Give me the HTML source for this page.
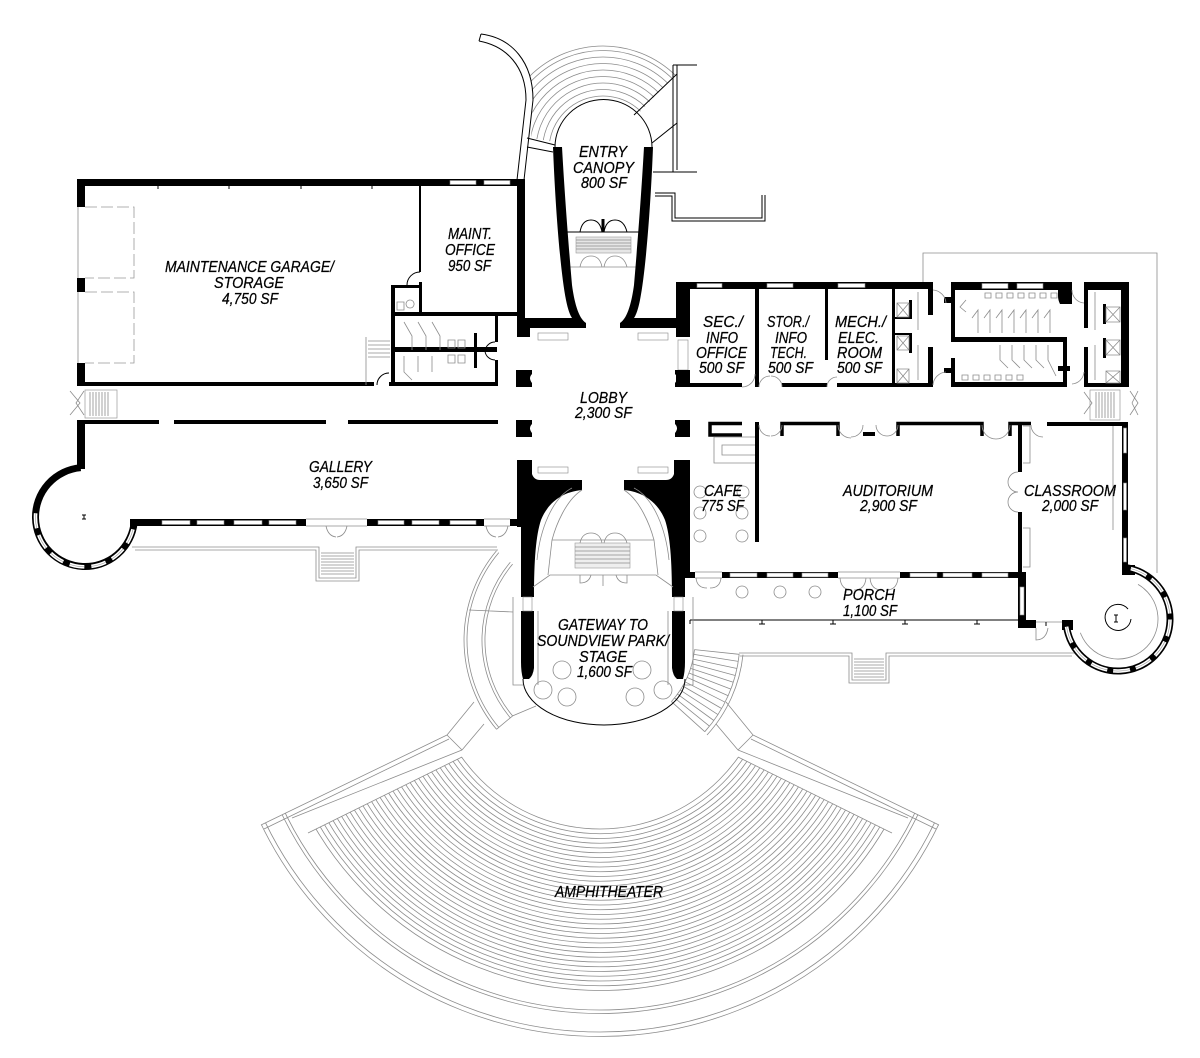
<!DOCTYPE html>
<html><head><meta charset="utf-8"><title>Floor Plan</title>
<style>
html,body{margin:0;padding:0;background:#fff}
svg{display:block}
.t{font-family:"Liberation Sans",Arial,sans-serif;font-style:italic;font-size:15.5px;fill:#000;stroke:#000;stroke-width:.25}
.g{fill:none;stroke:#8c8c8c;stroke-width:.8}
.k{fill:none;stroke:#000;stroke-width:1}
.w{fill:#fff;stroke:#888;stroke-width:.6}
</style></head><body>
<svg width="1200" height="1058" viewBox="0 0 1200 1058" xmlns="http://www.w3.org/2000/svg">
<rect width="1200" height="1058" fill="#fff"/>
<defs>
 <clipPath id="seat"><polygon points="462,757 154,909 154,1058 1046,1058 1046,909 738,757"/></clipPath>
 <clipPath id="outer"><polygon points="600,660 150,879 150,1058 1050,1058 1050,879"/></clipPath>
 <clipPath id="cs"><polygon points="603,150 531,138 533,100 530,75 516,52 495,30 560,-60 800,-60 742,6"/></clipPath>
</defs>

<!-- ================= AMPHITHEATER ================= -->
<g class="g" clip-path="url(#seat)">
 <circle cx="600" cy="660" r="169"/><circle cx="600" cy="660" r="173.75"/><circle cx="600" cy="660" r="178.5"/><circle cx="600" cy="660" r="183.25"/>
 <circle cx="600" cy="660" r="188"/><circle cx="600" cy="660" r="192.75"/><circle cx="600" cy="660" r="197.5"/><circle cx="600" cy="660" r="202.25"/>
 <circle cx="600" cy="660" r="207"/><circle cx="600" cy="660" r="211.75"/><circle cx="600" cy="660" r="216.5"/><circle cx="600" cy="660" r="221.25"/>
 <circle cx="600" cy="660" r="226"/><circle cx="600" cy="660" r="230.75"/><circle cx="600" cy="660" r="235.5"/><circle cx="600" cy="660" r="240.25"/>
 <circle cx="600" cy="660" r="245"/><circle cx="600" cy="660" r="249.75"/><circle cx="600" cy="660" r="254.5"/><circle cx="600" cy="660" r="259.25"/>
 <circle cx="600" cy="660" r="264"/><circle cx="600" cy="660" r="268.75"/><circle cx="600" cy="660" r="273.5"/><circle cx="600" cy="660" r="278.25"/>
 <circle cx="600" cy="660" r="283"/><circle cx="600" cy="660" r="287.75"/><circle cx="600" cy="660" r="292.5"/><circle cx="600" cy="660" r="297.25"/>
 <circle cx="600" cy="660" r="302"/><circle cx="600" cy="660" r="306.75"/><circle cx="600" cy="660" r="311.5"/><circle cx="600" cy="660" r="316.25"/>
 <circle cx="600" cy="660" r="321"/><circle cx="600" cy="660" r="325.75"/><circle cx="600" cy="660" r="330.5"/>
</g>
<g class="g" clip-path="url(#outer)">
 <circle cx="600" cy="660" r="350"/><circle cx="600" cy="660" r="353.5"/>
 <circle cx="600" cy="660" r="372"/><circle cx="600" cy="660" r="376.5"/>
</g>
<g class="g">
 <path d="M261,825 L447,735 M264,829 L449,739 M292,818 L462,750 M447,735 L462,750 M308,833 L462,757 M447,735 L474,702 M462,750 L484,724"/>
</g>
<g class="g" transform="translate(1200,0) scale(-1,1)">
 <path d="M261,825 L447,735 M264,829 L449,739 M292,818 L462,750 M447,735 L462,750 M308,833 L462,757 M447,735 L474,702 M462,750 L484,724"/>
</g>

<!-- walkway arcs left of gateway -->
<path class="g" d="M496.5,550.7 A139,139 0 0 0 496.5,729.3 M498.8,552.6 A136,136 0 0 0 498.8,727.4 M510.3,562.2 A121,121 0 0 0 510.3,717.8 M512.6,564.1 A118,118 0 0 0 512.6,715.9 M496.5,729.3 L512.6,715.9 M469,610 L513,612 M512.6,715.9 L536,706"/>
<!-- stair fan right of gateway -->
<path class="g" d="M694.5,649.6 A92,92 0 0 1 671.4,701.6 M739.2,654.3 A137,137 0 0 1 704.8,731.7 M743,654.7 A141,141 0 0 1 707,735
M694.5,649.6 L739.2,654.3 M693.9,654.4 L738.3,661.4 M693,659.1 L737,668.5 M691.9,663.8 L735.3,675.5 M690.5,668.4 L733.3,682.3 M688.9,673 L730.9,689.1 M687,677.4 L728.2,695.7 M685,681.8 L725.1,702.2 M682.7,686 L721.6,708.5 M680.2,690.1 L717.9,714.6 M677.4,694.1 L713.8,720.5 M674.5,697.9 L709.5,726.2 M671.4,701.6 L704.8,731.7"/>

<!-- terraces -->
<path class="g" d="M132,547 H319 V578 H356 V547 H497 M135,550 H316 V581 H359 V550 H498"/>
<path class="g" d="M321,553 H354 M321,556 H354 M321,559 H354 M321,562 H354 M321,565 H354 M321,568 H354 M321,571 H354 M321,574 H354"/>
<path class="g" d="M739,653 H852 V680 H886 V653 H1075 M740,656 H849 V683 H889 V656 H1072"/>
<path class="g" d="M854,659 H884 M854,662 H884 M854,665 H884 M854,668 H884 M854,671 H884 M854,674 H884 M854,677 H884"/>
<!-- porch bottom -->
<path class="k" d="M690,620 H1018" stroke-width="1.2"/>
<path class="k" d="M690,620 V624 M762,620 V624 M833,620 V624 M905,620 V624 M977,620 V624 M759,624 H765 M830,624 H836 M902,624 H908 M974,624 H980"/>
<!-- site outline -->
<path class="g" d="M923,282 V253 H1157 V573"/>

<!-- ================= ENTRY CANOPY ================= -->
<g class="g" clip-path="url(#cs)">
 <circle cx="603" cy="150" r="54"/><circle cx="603" cy="150" r="60.5"/><circle cx="603" cy="150" r="67"/><circle cx="603" cy="150" r="73.5"/>
 <circle cx="603" cy="150" r="80"/><circle cx="603" cy="150" r="86.5"/><circle cx="603" cy="150" r="93"/><circle cx="603" cy="150" r="99.5"/><circle cx="603" cy="150" r="104"/>
</g>
<path class="k" d="M555,147 A48,47 0 0 1 652,147"/>
<path class="k" stroke-width=".9" d="M677,74 L634,115 M677,123 L652,143 M527,138 L555,145 M527,147 L553,152"/>
<!-- ramp -->
<path class="k" stroke-width=".9" d="M481,34 C512,38 533,62 533,100 L524,180 M479,41 C506,46 526,66 526,100 L517,180 M479,41 L481,34"/>
<!-- right outline -->
<path class="k" stroke-width=".9" d="M673,65 V172 M677,65 V170 M673,65 H697 M653,172 H697 M655,193 H675 V218 H762 V195 M655,196 H672 V221 H765 V195"/>
<!-- canopy doors -->
<path class="k" d="M562,232 H645"/>
<path class="k" stroke-width="1.3" d="M580,232 Q582,220 591,220 Q600,220 602,232 M604,232 Q606,220 615,220 Q624,220 627,232"/>
<rect x="601.5" y="219" width="3" height="13"/>
<rect x="576" y="237" width="55" height="16" fill="#e6e6e6" stroke="#999" stroke-width=".6"/>
<path class="g" d="M576,240 H631 M576,243 H631 M576,246 H631 M576,249 H631"/>
<path class="g" d="M567,267 H640 M580,267 Q582,256 591,256 Q600,256 602,267 M604,267 Q606,256 615,256 Q624,256 627,267"/>

<!-- ================= MAINTENANCE ================= -->
<g fill="#000">
 <rect x="77" y="179" width="448" height="7"/>
 <rect x="77" y="179" width="8" height="28"/>
 <rect x="77" y="278" width="8" height="14"/>
 <rect x="77" y="363" width="8" height="23"/>
 <rect x="517" y="179" width="8" height="158"/>
 <rect x="419" y="186" width="2" height="86"/>
 <rect x="391" y="312" width="126" height="4"/>
 <rect x="391" y="285" width="4" height="101"/>
 <rect x="391" y="285" width="31" height="3"/>
 <rect x="419" y="282" width="3" height="31"/>
 <rect x="495" y="316" width="3" height="26"/>
 <rect x="495" y="360" width="3" height="26"/>
 <rect x="393" y="347" width="104" height="5"/>
 <rect x="474" y="333" width="3" height="35"/>
 <rect x="77" y="382" width="297" height="4"/>
 <rect x="389" y="382" width="109" height="4"/>
</g>
<path class="g" d="M78,207 V278 M78,292 V363"/>
<path d="M85,207 H134 V278 H85 M85,292 H134 V363 H85" fill="none" stroke="#999" stroke-width=".8" stroke-dasharray="12 4"/>
<rect class="w" x="450" y="180.5" width="26" height="4"/>
<rect class="w" x="484" y="180.5" width="26" height="4"/>
<path class="k" stroke-width=".8" d="M158,186 V189 M229,186 V189 M301,186 V189 M372,186 V189"/>
<path class="k" stroke-width=".8" d="M420,272 A13,13 0 0 0 407,285 M495,342 A10,10 0 0 0 485,351 A10,10 0 0 0 495,360 M377,385 A12,12 0 0 1 389,373"/>
<path class="g" d="M366,337 V385 M368,341 H390 M368,345 H390 M368,349 H390 M368,353 H390 M368,357 H390 M404,322 L412,336 V350 M418,322 L426,336 V350 M432,322 L440,336 V350 M404,356 V372 L412,380 M418,356 V372 M432,356 V372 M448,340 H455 V348 H448 Z M458,340 H465 V348 H458 Z M448,355 H455 V363 H448 Z M458,355 H465 V363 H458 Z M397,302 H404 V310 H397 Z M410,300 A4,4 0 1 0 410.1,300"/>
<!-- left corridor stair -->
<rect x="85" y="390" width="32" height="28" fill="none" stroke="#999" stroke-width=".7"/>
<path class="g" d="M90,392 V416 M93,392 V416 M96,392 V416 M99,392 V416 M102,392 V416 M105,392 V416 M108,392 V416 M70,391 L80,403 L70,415 M84,391 L76,403 L84,415"/>

<!-- ================= GALLERY ================= -->
<g fill="#000">
 <rect x="84" y="420" width="75" height="4"/>
 <rect x="174" y="420" width="152" height="4"/>
 <rect x="348" y="420" width="150" height="4"/>
 <rect x="77" y="420" width="8" height="49"/>
 <rect x="130" y="519" width="387" height="7"/>
</g>
<path d="M80.7,467.7 A49.5,49.5 0 1 0 134.2,522.5" fill="none" stroke="#000" stroke-width="7"/>
<path d="M134.2,522.5 A49.5,49.5 0 1 1 36,510.1" fill="none" stroke="#fff" stroke-width="3.6" stroke-dasharray="15 7" stroke-dashoffset="15"/>
<path d="M134.2,522.5 A49.5,49.5 0 1 1 36,510.1" fill="none" stroke="#999" stroke-width=".6" stroke-dasharray="15 7" stroke-dashoffset="15"/>
<g>
 <rect class="w" x="162" y="520.5" width="28" height="4"/>
 <rect class="w" x="197" y="520.5" width="27" height="4"/>
 <rect class="w" x="234" y="520.5" width="28" height="4"/>
 <rect class="w" x="269" y="520.5" width="27" height="4"/>
 <rect x="306" y="518.5" width="61" height="8" fill="#fff"/>
 <rect class="w" x="378" y="520.5" width="26" height="4"/>
 <rect class="w" x="412" y="520.5" width="27" height="4"/>
 <rect class="w" x="450" y="520.5" width="26" height="4"/>
 <rect x="484" y="518.5" width="26" height="8" fill="#fff"/>
</g>
<path class="g" d="M306,519 H367 M306,526 H367 M484,519 H510 M484,526 H510 M326,526 Q328,536 336,537 M347,526 Q345,536 337,537 M486,526 Q488,536 496,537 M508,526 Q506,536 498,537"/>
<path class="k" stroke-width=".8" d="M84,515 V519 M82,515 H86 M82,519 H86"/>

<!-- ================= LOBBY ================= -->
<g fill="#000">
 <path d="M553,147 C555,200 560,270 566,300 C568,310 570,315 572,318 L517,318 L517,337 L530,337 L530,328 L586,328 L586,323 C578,318 574,300 572,285 C569,250 565,200 562,147 Z"/>
 <path d="M653,147 C651,200 646,270 640,300 C638,310 636,315 634,318 L676,318 L676,282 L690,282 L690,337 L676,337 L676,328 L620,328 L620,323 C628,318 632,300 634,285 C637,250 641,200 644,147 Z"/>
 <path d="M516,370 H532 V374 Q528,378 532,383 V387 H516 Z"/>
 <path d="M516,420 H532 V424 Q528,428 532,433 V437 H516 Z"/>
 <path d="M690,370 H675 V374 Q679,378 675,383 V387 H690 Z"/>
 <path d="M690,420 H675 V424 Q679,428 675,433 V437 H690 Z"/>
 <path d="M517,460 L532,460 L532,474 Q534,480 540,480 L582,480 L582,490 C560,492 547,505 541,520 C536,535 534,560 534,597 L521,597 L521,527 L517,527 Z"/>
 <path d="M521,611 L534,611 L534,668 Q533,676 529,679 L523,679 Q521,672 521,662 Z"/>
 <path d="M690,460 L674,460 L674,474 Q672,480 666,480 L624,480 L624,490 C646,492 659,505 665,520 C670,535 672,560 672,597 L685,597 L685,578 L690,578 Z"/>
 <path d="M672,611 L685,611 L685,662 Q685,672 683,679 L677,679 Q673,676 672,668 Z"/>
</g>
<rect class="w" x="538" y="333" width="30" height="7"/>
<rect class="w" x="638" y="333" width="30" height="7"/>
<rect class="w" x="538" y="467" width="30" height="6"/>
<rect class="w" x="638" y="467" width="30" height="6"/>
<rect class="w" x="678" y="340" width="10" height="30"/>
<rect class="w" x="523" y="597" width="9" height="14"/>
<rect class="w" x="674" y="597" width="9" height="14"/>

<!-- ================= GATEWAY ================= -->
<path class="k" d="M523,679 A81,46 0 0 0 685,679"/>
<path class="g" d="M513,597 V685 H523 M538,611 V685 M693,597 V685 H685 M668,611 V685 M582,490 C566,500 556,525 552,540 L548,575 M624,490 C640,500 650,525 654,540 L658,575 M572,488 C552,498 540,530 537,560 M634,488 C654,498 666,530 669,560 M552,540 H654 M533,587 L550,575 H656 L673,587"/>
<rect x="575" y="543" width="55" height="25" fill="#eee" stroke="#999" stroke-width=".6"/>
<path class="g" d="M575,547 H630 M575,551 H630 M575,555 H630 M575,559 H630 M575,563 H630 M580,543 Q582,533 591,533 Q600,533 602,543 M604,543 Q606,533 615,533 Q624,533 627,543 M580,575 V583 Q589,583 591,575 M627,575 V583 Q618,583 616,575 M603,575 V586"/>
<g class="g">
 <circle cx="562" cy="670" r="9"/><circle cx="642" cy="670" r="9"/>
 <circle cx="543" cy="690" r="9"/><circle cx="567" cy="697" r="9"/>
 <circle cx="635" cy="697" r="9"/><circle cx="663" cy="690" r="9"/>
</g>

<!-- ================= OFFICES (upper right) ================= -->
<g fill="#000">
 <rect x="682" y="282" width="251" height="7"/>
 <rect x="676" y="370" width="14" height="17"/>
 <rect x="689" y="383" width="53" height="4"/>
 <rect x="782" y="383" width="45" height="4"/>
 <rect x="837" y="383" width="96" height="4"/>
 <rect x="755" y="288" width="4" height="99"/>
 <rect x="825" y="288" width="3" height="72"/>
 <rect x="892" y="288" width="3" height="99"/>
 <rect x="909" y="300" width="3" height="18"/>
 <rect x="909" y="333" width="3" height="20"/>
 <rect x="895" y="317" width="17" height="2"/>
 <rect x="895" y="333" width="17" height="2"/>
 <rect x="928" y="282" width="5" height="33"/>
 <rect x="928" y="347" width="5" height="40"/>
 <rect x="951" y="282" width="116" height="8"/>
 <path d="M1058,282 H1072 V304 H1060 Q1058,300 1058,296 Z"/>
 <rect x="951" y="282" width="4" height="60"/>
 <rect x="951" y="358" width="4" height="29"/>
 <rect x="944" y="297" width="8" height="6"/>
 <rect x="944" y="368" width="8" height="5"/>
 <rect x="951" y="337" width="116" height="5"/>
 <rect x="1063" y="342" width="4" height="45"/>
 <rect x="951" y="382" width="116" height="5"/>
 <rect x="1058" y="366" width="12" height="5"/>
 <rect x="1084" y="282" width="45" height="8"/>
 <rect x="1121" y="282" width="8" height="105"/>
 <rect x="1084" y="282" width="4" height="46"/>
 <rect x="1084" y="347" width="4" height="40"/>
 <rect x="1084" y="383" width="45" height="4"/>
 <rect x="1103" y="304" width="3" height="20"/>
 <rect x="1103" y="338" width="3" height="20"/>
</g>
<rect class="w" x="697" y="283.5" width="25" height="4"/>
<rect class="w" x="767" y="283.5" width="26" height="4"/>
<rect class="w" x="838" y="283.5" width="27" height="4"/>
<rect class="w" x="982" y="283.5" width="26" height="5"/>
<rect class="w" x="1017" y="283.5" width="26" height="5"/>
<path class="k" stroke-width=".8" d="M688,289 V292 M756,289 V292 M826,289 V292"/>
<path class="g" d="M897,303 H909 V317 H897 Z M897,303 L909,317 M909,303 L897,317 M897,336 H909 V350 H897 Z M897,336 L909,350 M909,336 L897,350 M897,369 H909 V383 H897 Z M897,369 L909,383 M909,369 L897,383 M918,292 V330 M918,345 V380"/>
<path class="g" d="M1106,307 H1120 V322 H1106 Z M1106,307 L1120,322 M1120,307 L1106,322 M1106,340 H1120 V355 H1106 Z M1106,340 L1120,355 M1120,340 L1106,355 M1106,371 H1120 V383 H1106 Z M1106,371 L1120,383 M1120,371 L1106,383 M1095,292 V330 M1095,345 V380"/>
<path class="g" d="M933,290 A14,14 0 0 1 946,303 M933,385 A14,14 0 0 1 946,372 M1072,290 A13,13 0 0 0 1084,303 M1072,384 A13,13 0 0 0 1084,372"/>
<path class="g" d="M742,387 A13,13 0 0 0 755,374 M759,387 A11,11 0 0 1 770,376 M782,387 A11,11 0 0 0 771,376 M827,387 A10,10 0 0 1 837,377"/>
<path class="g" d="M985,293 h6 v5 h-6 z M996,293 h6 v5 h-6 z M1007,293 h6 v5 h-6 z M1018,293 h6 v5 h-6 z M1029,293 h6 v5 h-6 z M1040,293 h6 v5 h-6 z M1051,293 h6 v5 h-6 z M962,375 h6 v5 h-6 z M973,375 h6 v5 h-6 z M984,375 h6 v5 h-6 z M995,375 h6 v5 h-6 z M1006,375 h6 v5 h-6 z M1017,375 h6 v5 h-6 z"/>
<path class="g" d="M972,318 L978,310 V333 M984,318 L990,310 V333 M996,318 L1002,310 V333 M1008,318 L1014,310 V333 M1020,318 L1026,310 V333 M1032,318 L1038,310 V333 M1044,318 L1050,310 V333 M1000,345 V360 L1008,368 M1012,345 V360 L1020,368 M1024,345 V360 L1032,368 M1036,345 V360 L1044,368 M1048,345 V360 L1056,376 M966,300 L960,307 L966,312"/>
<rect x="1090" y="390" width="30" height="30" fill="none" stroke="#999" stroke-width=".7"/>
<path class="g" d="M1096,392 V418 M1099,392 V418 M1102,392 V418 M1105,392 V418 M1108,392 V418 M1111,392 V418 M1114,392 V418 M1130,391 L1138,403 L1130,415 M1138,391 L1132,403 M1132,403 L1138,415 M1084,392 L1092,403 L1084,414"/>

<!-- ================= CAFE / AUDITORIUM / CLASSROOM ================= -->
<g fill="#000">
 <rect x="755" y="422" width="4" height="120"/>
 <rect x="863" y="432" width="12" height="4"/>
 <rect x="1018" y="422" width="4" height="50"/>
 <rect x="1018" y="512" width="4" height="61"/>
 <rect x="1047" y="422" width="81" height="4"/>
 <rect x="1122" y="422" width="6" height="150"/>
 <rect x="688" y="572" width="337" height="6"/>
 <rect x="1018" y="572" width="8" height="56"/>
 <rect x="1018" y="620" width="18" height="8"/>
 <rect x="1062" y="620" width="11" height="10"/>
 <rect x="1122" y="565" width="13" height="10"/>
</g>
<path fill="none" stroke="#000" stroke-width="3.5" d="M742,423.5 H710 V435 H742 M782,436 V423.5 H838 V436 M898,436 V423.5 H982 V436 M1010,436 V423.5 H1031"/>
<path class="g" d="M755,437 H714 V463 H755 M755,445 H722 V455 H755"/>
<path class="g" d="M759,425 A11,11 0 0 0 770,436 M782,425 A11,11 0 0 1 771,436 M838,425 A13,13 0 0 0 851,438 M863,425 A12,12 0 0 1 851,437 M876,425 A11,11 0 0 0 887,436 M898,425 A11,11 0 0 1 887,436 M982,425 A14,14 0 0 0 996,439 M1010,425 A14,14 0 0 1 996,439 M1031,425 A12,12 0 0 0 1043,437 M1018,472 A10,10 0 0 0 1008,482 A10,10 0 0 0 1018,492 A10,10 0 0 0 1008,502 A10,10 0 0 0 1018,512 M1023,426 H1030 V463 H1023 M1023,528 H1030 V567 H1023 M1113,426 V530"/>
<rect class="w" x="1123.5" y="428" width="3" height="25"/>
<rect class="w" x="1123.5" y="483" width="3" height="27"/>
<rect class="w" x="1123.5" y="538" width="3" height="24"/>
<rect class="w" x="1020" y="587" width="4" height="28"/>
<rect x="695" y="571" width="27" height="8" fill="#fff"/>
<rect x="838" y="571" width="62" height="8" fill="#fff"/>
<rect class="w" x="730" y="573" width="27" height="4"/>
<rect class="w" x="767" y="573" width="26" height="4"/>
<rect class="w" x="802" y="573" width="26" height="4"/>
<rect class="w" x="910" y="573" width="27" height="4"/>
<rect class="w" x="943" y="573" width="29" height="4"/>
<rect class="w" x="982" y="573" width="26" height="4"/>
<path class="g" d="M695,572 H722 M695,578 H722 M838,572 H900 M838,578 H900 M696,578 Q697,588 707,588 M721,578 Q720,588 710,588 M840,578 Q841,590 852,590 M866,578 Q865,590 854,590 M870,578 Q871,590 882,590 M898,578 Q897,590 886,590 M1036,622 H1062 M1036,628 V640 Q1046,640 1048,628"/>
<g class="g">
 <circle cx="700" cy="492" r="6"/><circle cx="743" cy="492" r="6"/>
 <circle cx="700" cy="513" r="6"/><circle cx="742" cy="513" r="6"/>
 <circle cx="700" cy="536" r="6"/><circle cx="742" cy="536" r="6"/>
 <circle cx="742" cy="592" r="6"/><circle cx="780" cy="592" r="6"/><circle cx="815" cy="592" r="6"/>
</g>

<!-- ================= TOWER ================= -->
<path d="M1125,567.5 A52,52 0 1 1 1066.5,626.2" fill="none" stroke="#000" stroke-width="7"/>
<path d="M1125,567.5 A52,52 0 1 1 1066.5,626.2" fill="none" stroke="#fff" stroke-width="3.6" stroke-dasharray="17 6" stroke-dashoffset="17"/>
<path d="M1125,567.5 A52,52 0 1 1 1066.5,626.2" fill="none" stroke="#999" stroke-width=".6" stroke-dasharray="17 6" stroke-dashoffset="17"/>
<path class="g" d="M1138,584.4 A40,40 0 1 1 1080.4,632.7"/>
<path class="k" stroke-width=".9" d="M1128,609 A13,13 0 1 0 1131,619"/>
<path class="k" stroke-width=".8" d="M1116,615 V622 M1114,615 H1118 M1114,622 H1118 M1046,622 V626"/>

<!-- ================= TEXT ================= -->
<g class="t">
 <text x="165" y="272" textLength="169" lengthAdjust="spacingAndGlyphs">MAINTENANCE GARAGE/</text>
 <text x="214" y="288" textLength="70" lengthAdjust="spacingAndGlyphs">STORAGE</text>
 <text x="222" y="304" textLength="56" lengthAdjust="spacingAndGlyphs">4,750 SF</text>
 <text x="448" y="239" textLength="44" lengthAdjust="spacingAndGlyphs">MAINT.</text>
 <text x="445" y="255" textLength="50" lengthAdjust="spacingAndGlyphs">OFFICE</text>
 <text x="448" y="271" textLength="43" lengthAdjust="spacingAndGlyphs">950 SF</text>
 <text x="579" y="157" textLength="48" lengthAdjust="spacingAndGlyphs">ENTRY</text>
 <text x="573" y="173" textLength="61" lengthAdjust="spacingAndGlyphs">CANOPY</text>
 <text x="581" y="188" textLength="46" lengthAdjust="spacingAndGlyphs">800 SF</text>
 <text x="703" y="327" textLength="40" lengthAdjust="spacingAndGlyphs">SEC./</text>
 <text x="706" y="343" textLength="32" lengthAdjust="spacingAndGlyphs">INFO</text>
 <text x="696" y="358" textLength="51" lengthAdjust="spacingAndGlyphs">OFFICE</text>
 <text x="699" y="373" textLength="45" lengthAdjust="spacingAndGlyphs">500 SF</text>
 <text x="767" y="327" textLength="42" lengthAdjust="spacingAndGlyphs">STOR./</text>
 <text x="775" y="343" textLength="32" lengthAdjust="spacingAndGlyphs">INFO</text>
 <text x="770" y="358" textLength="37" lengthAdjust="spacingAndGlyphs">TECH.</text>
 <text x="768" y="373" textLength="45" lengthAdjust="spacingAndGlyphs">500 SF</text>
 <text x="835" y="327" textLength="51" lengthAdjust="spacingAndGlyphs">MECH./</text>
 <text x="838" y="343" textLength="41" lengthAdjust="spacingAndGlyphs">ELEC.</text>
 <text x="837" y="358" textLength="45" lengthAdjust="spacingAndGlyphs">ROOM</text>
 <text x="837" y="373" textLength="45" lengthAdjust="spacingAndGlyphs">500 SF</text>
 <text x="580" y="403" textLength="47" lengthAdjust="spacingAndGlyphs">LOBBY</text>
 <text x="575" y="418" textLength="57" lengthAdjust="spacingAndGlyphs">2,300 SF</text>
 <text x="309" y="472" textLength="63" lengthAdjust="spacingAndGlyphs">GALLERY</text>
 <text x="313" y="488" textLength="55" lengthAdjust="spacingAndGlyphs">3,650 SF</text>
 <text x="704" y="496" textLength="38" lengthAdjust="spacingAndGlyphs">CAFE</text>
 <text x="701" y="511" textLength="43" lengthAdjust="spacingAndGlyphs">775 SF</text>
 <text x="843" y="496" textLength="90" lengthAdjust="spacingAndGlyphs">AUDITORIUM</text>
 <text x="860" y="511" textLength="57" lengthAdjust="spacingAndGlyphs">2,900 SF</text>
 <text x="1024" y="496" textLength="92" lengthAdjust="spacingAndGlyphs">CLASSROOM</text>
 <text x="1042" y="511" textLength="56" lengthAdjust="spacingAndGlyphs">2,000 SF</text>
 <text x="843" y="600" textLength="52" lengthAdjust="spacingAndGlyphs">PORCH</text>
 <text x="843" y="616" textLength="54" lengthAdjust="spacingAndGlyphs">1,100 SF</text>
 <text x="558" y="630" textLength="90" lengthAdjust="spacingAndGlyphs">GATEWAY TO</text>
 <text x="537" y="646" textLength="132" lengthAdjust="spacingAndGlyphs">SOUNDVIEW PARK/</text>
 <text x="579" y="662" textLength="48" lengthAdjust="spacingAndGlyphs">STAGE</text>
 <text x="577" y="677" textLength="55" lengthAdjust="spacingAndGlyphs">1,600 SF</text>
 <text x="555" y="897" textLength="108" lengthAdjust="spacingAndGlyphs">AMPHITHEATER</text>
</g>
</svg>
</body></html>
